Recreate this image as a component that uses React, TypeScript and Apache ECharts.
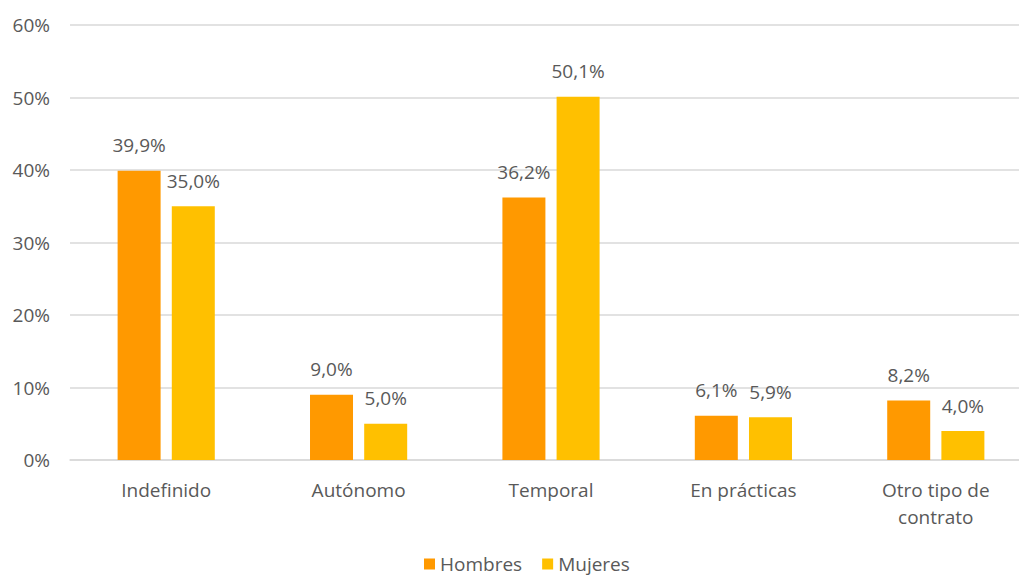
import React, { useEffect, useRef } from "react";
import * as echarts from "echarts";

const categories = ["Indefinido", "Autónomo", "Temporal", "En prácticas", "Otro tipo de\ncontrato"];
const hombres = [39.9, 9.0, 36.2, 6.1, 8.2];
const mujeres = [35.0, 5.0, 50.1, 5.9, 4.0];
const seriesNames = ["Hombres", "Mujeres"];

const FONT = "'Open Sans', 'Noto Sans', sans-serif";
const TXT = "#595959";
const FS = 19;

export default function App() {
  const ref = useRef<HTMLDivElement>(null);
  useEffect(() => {
    const chart = echarts.init(ref.current!, null, { renderer: "svg" });
    const fmt = (p: any) => p.value.toFixed(1).replace(".", ",") + "%";
    chart.setOption({
      animation: false,
      textStyle: { fontFamily: FONT },
      grid: { left: 70, width: 962, top: 25, bottom: 116, containLabel: false, outerBoundsMode: "none" },
      legend: {
        top: 554,
        left: 424,
        padding: 0,
        itemWidth: 11,
        itemHeight: 11,
        itemGap: 20,
        icon: "rect",
        textStyle: { color: TXT, fontSize: FS, lineHeight: 20, fontFamily: FONT },
        data: seriesNames,
      },
      xAxis: {
        type: "category",
        data: categories,
        axisLine: { lineStyle: { color: "#d9d9d9", width: 1.5 } },
        axisTick: { show: false },
        axisLabel: { color: TXT, fontSize: FS, margin: 16, lineHeight: 27, fontFamily: FONT },
      },
      yAxis: {
        type: "value",
        min: 0,
        max: 60,
        interval: 10,
        axisLine: { show: false },
        axisTick: { show: false },
        splitLine: { lineStyle: { color: "#d9d9d9", width: 1.5 } },
        axisLabel: { color: TXT, fontSize: FS, margin: 20, formatter: "{value}%", fontFamily: FONT },
      },
      series: [
        {
          name: seriesNames[0],
          type: "bar",
          data: hombres,
          barWidth: 43,
          barGap: "26%",
          itemStyle: { color: "#FF9900" },
          label: { show: true, position: "top", distance: 16, color: TXT, fontSize: FS, formatter: fmt, fontFamily: FONT },
        },
        {
          name: seriesNames[1],
          type: "bar",
          data: mujeres,
          barWidth: 43,
          itemStyle: { color: "#FFC000" },
          label: { show: true, position: "top", distance: 16, color: TXT, fontSize: FS, formatter: fmt, fontFamily: FONT },
        },
      ],
    });
    return () => chart.dispose();
  }, []);
  return <div ref={ref} style={{ width: 1019, height: 576, position: "absolute", left: 0, top: 0 }} />;
}
